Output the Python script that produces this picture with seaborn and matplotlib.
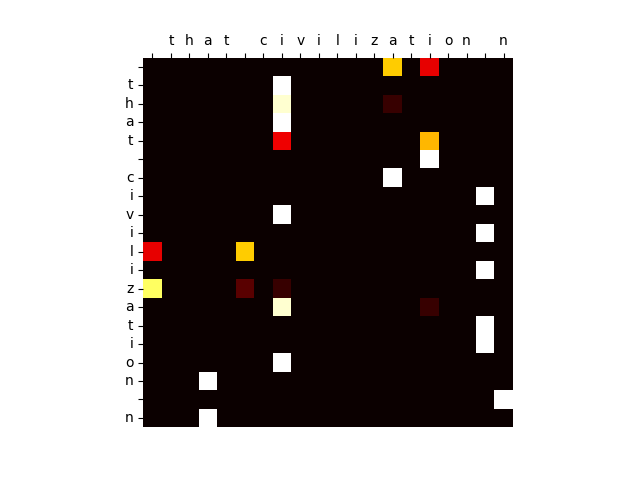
import numpy as np
import pandas as pd
import seaborn as sns
import matplotlib
matplotlib.use("Agg")
import matplotlib.pyplot as plt

# characters on each axis (first one is the empty start token)
src_chars = ['', 't', 'h', 'a', 't', ' ', 'c', 'i', 'v', 'i', 'l', 'i', 'z', 'a', 't', 'i', 'o', 'n', ' ', 'n']
tgt_chars = ['', 't', 'h', 'a', 't', ' ', 'c', 'i', 'v', 'i', 'l', 'i', 'z', 'a', 't', 'i', 'o', 'n', ' ', 'n']

# non-zero attention weights (everything else ~0)
att_rows = [0, 0, 1, 2, 2, 3, 4, 4, 5, 6, 7, 8, 9, 10, 10, 11, 12, 12, 12, 13, 13, 14, 15, 16, 17, 18, 19]
att_cols = [13, 15, 7, 7, 13, 7, 7, 15, 15, 13, 18, 7, 18, 0, 5, 18, 0, 5, 7, 7, 15, 18, 18, 7, 3, 19, 3]
att_vals = [0.67, 0.33, 1.0, 0.95, 0.07, 1.0, 0.34, 0.64, 1.0, 1.0, 1.0, 1.0, 1.0, 0.33, 0.67, 1.0,
            0.84, 0.12, 0.07, 0.95, 0.07, 1.0, 1.0, 1.0, 1.0, 1.0, 1.0]

attn = np.zeros((len(tgt_chars), len(src_chars)))
for r, c, v in zip(att_rows, att_cols, att_vals):
    attn[r, c] = v
df = pd.DataFrame(attn)

fig = plt.figure(figsize=(6.4, 4.8), dpi=100)
ax = fig.add_subplot(111)
sns.heatmap(df, cmap='hot', vmin=0, vmax=1, cbar=False, square=True,
            xticklabels=src_chars, yticklabels=tgt_chars, ax=ax)

ax.xaxis.tick_top()
ax.set_xticklabels(src_chars, rotation=0)
ax.set_yticklabels(tgt_chars, rotation=0)
ax.tick_params(bottom=False, top=True, left=True, length=3.5)
ax.set_xlabel('')
ax.set_ylabel('')

plt.savefig('out.png', dpi=100)
